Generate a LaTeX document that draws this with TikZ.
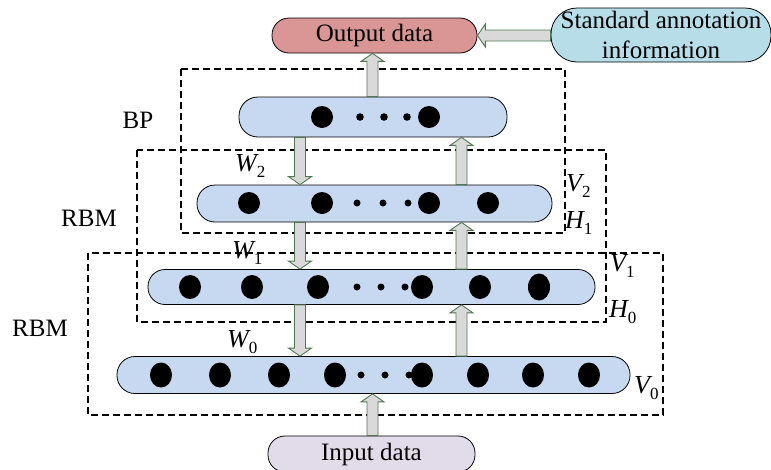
\documentclass[tikz,border=0pt]{standalone}
\usepackage{fontspec}
\setmainfont{Liberation Serif}
\usetikzlibrary{calc}
\definecolor{outred}{HTML}{D99694}
\definecolor{stdblue}{HTML}{B7DEE8}
\definecolor{layblue}{HTML}{C6D9F1}
\definecolor{inlav}{HTML}{E2DCEA}
\definecolor{arrgray}{HTML}{D9D9D9}
\definecolor{arrgreen}{HTML}{4F7A50}
\tikzset{
  txt/.style={font=\fontsize{25}{30}\selectfont, inner sep=0pt},
  pill/.style={draw=black, line width=0.8pt, inner sep=0pt, font=\fontsize{25}{30}\selectfont, align=center},
  layer/.style={pill, fill=layblue},
  dashbox/.style={draw=black, line width=1.3pt, dash pattern=on 7pt off 4pt},
  blockarrow/.style={fill=arrgray, draw=arrgreen, line width=0.9pt, line join=miter},
  bigdot/.style={fill=black},
  mlabel/.style={font=\fontsize{26}{26}\selectfont\itshape, inner sep=0pt}
}
\newcommand{\blockarr}[2]{%
  \coordinate (baS) at (#1);
  \coordinate (baT) at (#2);
  \coordinate (baH) at ($(baT)!8pt!(baS)$);
  \filldraw[blockarrow] ($(baS)!5.5pt!90:(baT)$) -- ($(baH)!5.5pt!90:(baT)$)
    -- ($(baH)!11.5pt!90:(baT)$) -- (baT) -- ($(baH)!11.5pt!-90:(baT)$)
    -- ($(baH)!5.5pt!-90:(baT)$) -- ($(baS)!5.5pt!-90:(baT)$) -- cycle;
}
\newcommand{\sub}[1]{\raisebox{-6pt}{\upshape\fontsize{17}{17}\selectfont #1}}
\begin{document}
\begin{tikzpicture}[x=1pt, y=-1pt]
\useasboundingbox (0,0) rectangle (771,469);

% dashed group boxes
\draw[dashbox] (181,69) rectangle (565,233);
\draw[dashbox] (137,150) rectangle (606,322);
\draw[dashbox] (88,253) rectangle (663,415);

% nodes
\node[pill, fill=outred, minimum width=205pt, minimum height=35pt, rounded corners=17pt] (out) at (374.5,35.5) {Output data};
\node[pill, fill=stdblue, minimum width=220pt, minimum height=54pt, rounded corners=26pt] (std) at (661,35) {Standard annotation\\information};
\node[pill, fill=inlav, minimum width=207pt, minimum height=36pt, rounded corners=17pt] (in) at (371.5,454) {Input data};

\node[layer, minimum width=268pt, minimum height=40pt, rounded corners=19pt] (bp) at (373,117) {};
\node[layer, minimum width=355pt, minimum height=37pt, rounded corners=18pt] (l2) at (374.5,203.5) {};
\node[layer, minimum width=447pt, minimum height=35pt, rounded corners=17pt] (l1) at (371.5,287) {};
\node[layer, minimum width=513pt, minimum height=37pt, rounded corners=18pt] (l0) at (373.5,375) {};

% dots
\foreach \x in {322,429} \fill[bigdot] (\x,117) ellipse (11pt and 11pt);
\foreach \x in {360,384,407} \fill[bigdot] (\x,117) circle (3.8pt);
\foreach \x in {249,322,429,488} \fill[bigdot] (\x,203) ellipse (11pt and 11pt);
\foreach \x in {357,383,408} \fill[bigdot] (\x,203) circle (3.5pt);
\foreach \x in {190,252,318,422,480} \fill[bigdot] (\x,287) ellipse (11pt and 12pt);
\fill[bigdot] (539,287) ellipse (11pt and 13.5pt);
\foreach \x in {357,381,405} \fill[bigdot] (\x,287) circle (3.5pt);
\foreach \x in {161,220,279,335,422,478,533,589} \fill[bigdot] (\x,375) ellipse (11pt and 12.5pt);
\foreach \x in {361,385,409} \fill[bigdot] (\x,375) circle (3.5pt);

% columns for arrows
\coordinate (xL) at (300,0);
\coordinate (xR) at (461.5,0);
\coordinate (xM) at (372.5,0);

% arrows
\blockarr{bp.north -| xM}{out.south -| xM}
\blockarr{std.west |- out.east}{out.east}
\blockarr{bp.south -| xL}{l2.north -| xL}
\blockarr{l2.north -| xR}{bp.south -| xR}
\blockarr{l2.south -| xL}{l1.north -| xL}
\blockarr{l1.north -| xR}{l2.south -| xR}
\blockarr{l1.south -| xL}{l0.north -| xL}
\blockarr{l0.north -| xR}{l1.south -| xR}
\blockarr{in.north -| xM}{l0.south -| xM}

% text labels
\node[txt] (lbp) at (138,120) {BP};
\node[txt] (lrbm1) at (89,218) {RBM};
\node[txt] (lrbm2) at (40,328) {RBM};

\node[mlabel, anchor=west] (w2) at (235,166) {W\sub{2}};
\node[mlabel, anchor=west] (w1) at (232,253) {W\sub{1}};
\node[mlabel, anchor=west] (w0) at (227,342) {W\sub{0}};
\node[mlabel, anchor=west] (v2) at (566,186) {V\sub{2}};
\node[mlabel, anchor=west] (h1) at (565,223) {H\sub{1}};
\node[mlabel, anchor=west] (v1) at (610,266) {V\sub{1}};
\node[mlabel, anchor=west] (h0) at (609,312) {H\sub{0}};
\node[mlabel, anchor=west] (v0) at (634,388) {V\sub{0}};
\end{tikzpicture}
\end{document}
